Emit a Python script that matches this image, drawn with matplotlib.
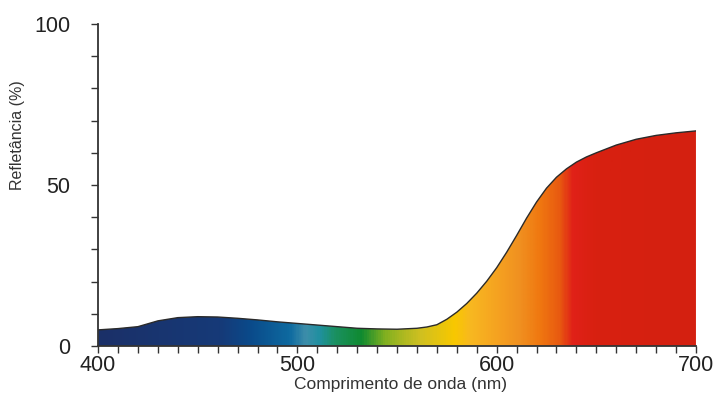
import matplotlib
matplotlib.use('Agg')
import matplotlib.pyplot as plt
import numpy as np
from matplotlib.colors import LinearSegmentedColormap

# curva de refletancia
comprimento = [400, 410, 420, 430, 440, 450, 460, 470, 480, 490, 500,
               510, 520, 530, 540, 550, 560, 565, 570, 575, 580, 585, 590, 595, 600,
               605, 610, 615, 620, 625, 630, 635, 640, 645, 650, 660, 670, 680, 690, 700]
refletancia = [5.0, 5.4, 6.0, 7.8, 8.8, 9.1, 9.0, 8.6, 8.1, 7.5, 7.0,
               6.5, 6.0, 5.5, 5.3, 5.2, 5.5, 5.9, 6.6, 8.3, 10.5, 13.2, 16.4, 20.1, 24.3,
               29.1, 34.3, 39.7, 44.7, 49.0, 52.4, 55.0, 57.1, 58.7, 60.0, 62.4, 64.2, 65.4, 66.2, 66.8]

# cores do espectro (comprimento de onda -> cor)
espectro_nm = [400, 461, 476, 496, 504, 511, 519, 532, 544, 552, 562,
               579, 587, 602, 612, 622, 632, 639, 650, 700]
espectro_cor = ['#1b3068', '#163a78', '#0a4a8a', '#0e6aa0', '#3d8eaa', '#2090a0',
                '#1a9060', '#0f8a30', '#80b020', '#a8b820', '#d0c020',
                '#f8c800', '#f8b820', '#f5a020', '#f09020', '#f07810',
                '#e85a10', '#e02018', '#d82010', '#d42010']

fig = plt.figure(figsize=(7.16, 3.98), dpi=100)
ax = fig.add_axes([0.137, 0.1307, 0.835, 0.809])

pos = [(w - 400) / 300 for w in espectro_nm]
cmap = LinearSegmentedColormap.from_list('espectro', list(zip(pos, espectro_cor)))
grad = np.linspace(0, 1, 600).reshape(1, -1)
img = ax.imshow(grad, cmap=cmap, extent=[400, 700, 0, 100], aspect='auto',
                origin='lower', interpolation='bilinear', zorder=1)

poly = ax.fill_between(comprimento, refletancia, 0, color='none', lw=0)
clip = poly.get_paths()[0]
img.set_clip_path(clip, transform=ax.transData)
ax.plot(comprimento, refletancia, color='#2a2a2a', lw=1.0, zorder=3)

ax.set_xlim(400, 700)
ax.set_ylim(0, 100)
ax.set_xticks([400, 500, 600, 700])
ax.set_xticks(np.arange(400, 701, 10), minor=True)
ax.set_yticks([0, 50, 100])
ax.set_yticks(np.arange(0, 101, 10), minor=True)

for s in ['top', 'right']:
    ax.spines[s].set_visible(False)
for s in ['left', 'bottom']:
    ax.spines[s].set_color('#333333')
    ax.spines[s].set_linewidth(1.3)
    ax.spines[s].set_zorder(4)

ax.tick_params(axis='both', which='both', direction='out', color='#333333', width=1.0)
ax.tick_params(axis='both', which='major', length=5)
ax.tick_params(axis='both', which='minor', length=5)
ax.tick_params(axis='y', which='major', pad=15, labelsize=15.5)
ax.tick_params(axis='x', which='major', pad=1.5, labelsize=15.5)
for lab in ax.get_xticklabels() + ax.get_yticklabels():
    lab.set_family(['Liberation Sans', 'DejaVu Sans'])
    lab.set_color('#222222')

ax.set_xlabel('Comprimento de onda (nm)', fontsize=12.5, color='#333333',
              family=['Liberation Sans Narrow', 'Liberation Sans', 'DejaVu Sans'])
ax.set_ylabel('Refletância (%)', fontsize=11.5, color='#333333',
              family=['Liberation Sans Narrow', 'Liberation Sans', 'DejaVu Sans'])
ax.xaxis.set_label_coords(0.505, -0.095)
ax.yaxis.set_label_coords(-0.122, 0.655)

fig.savefig('out.png', dpi=100)
